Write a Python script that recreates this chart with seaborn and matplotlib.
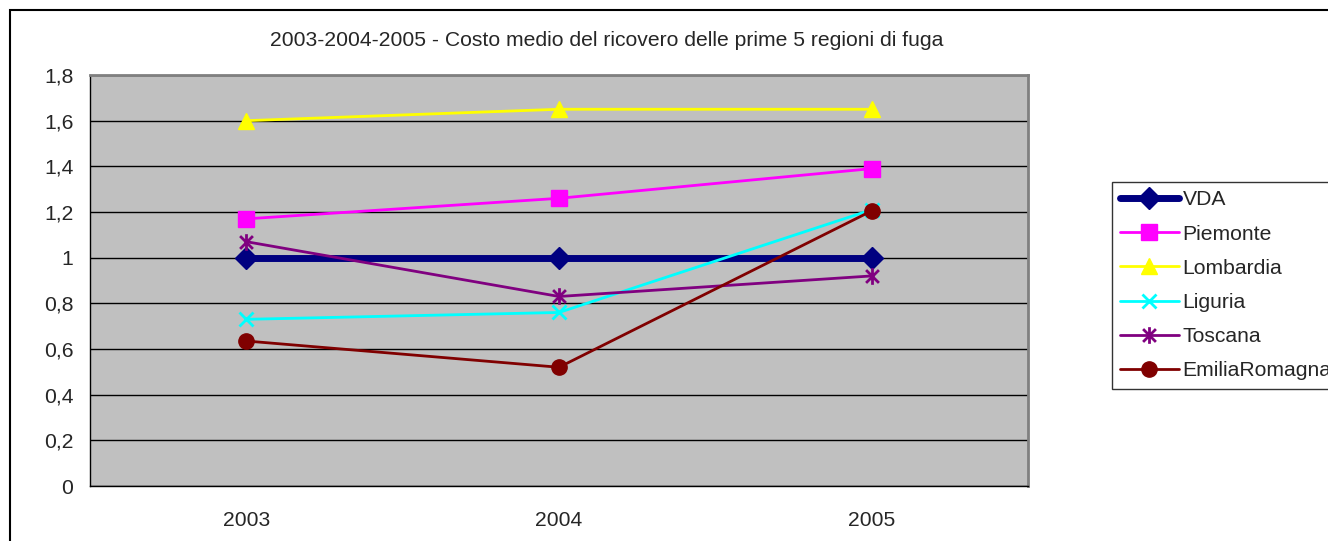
import pandas as pd
import seaborn as sns
import matplotlib.pyplot as plt
from matplotlib.path import Path
from matplotlib.patches import Rectangle
from matplotlib.ticker import FuncFormatter

# Data
anni = ['2003', '2004', '2005']
vda = [1.0, 1.0, 1.0]
piemonte = [1.17, 1.26, 1.39]
lombardia = [1.60, 1.65, 1.65]
liguria = [0.73, 0.76, 1.21]
toscana = [1.07, 0.83, 0.92]
emilia = [0.635, 0.52, 1.205]

regioni = ['VDA', 'Piemonte', 'Lombardia', 'Liguria', 'Toscana', 'EmiliaRomagna']
valori = [vda, piemonte, lombardia, liguria, toscana, emilia]

rows = []
for nome, serie in zip(regioni, valori):
    for i, v in enumerate(serie):
        rows.append({'Regione': nome, 'pos': i, 'Anno': anni[i], 'Costo': v})
df = pd.DataFrame(rows)

# Excel style "star" marker: x with a vertical bar
star = Path([(-1, -1), (1, 1), (-1, 1), (1, -1), (0, -1.3), (0, 1.3)],
            [Path.MOVETO, Path.LINETO, Path.MOVETO, Path.LINETO, Path.MOVETO, Path.LINETO])

styles = {
    'VDA': dict(color='#000080', marker='D', lw=5, ms=11),
    'Piemonte': dict(color='#FF00FF', marker='s', lw=2, ms=11),
    'Lombardia': dict(color='#FFFF00', marker='^', lw=2, ms=12),
    'Liguria': dict(color='#00FFFF', marker='x', lw=2, ms=10),
    'Toscana': dict(color='#800080', marker=star, lw=2, ms=12),
    'EmiliaRomagna': dict(color='#800000', marker='o', lw=2, ms=11),
}

sns.set_style('white')
plt.rcParams['font.family'] = ['Liberation Sans', 'DejaVu Sans']
FS = 15.2

fig = plt.figure(figsize=(13.28, 5.41), dpi=100)
ax = fig.add_axes([90 / 1328, 1 - 486 / 541, 938 / 1328, 411 / 541])
ax.set_facecolor('#C0C0C0')

for nome in regioni:
    st = styles[nome]
    sub = df[df['Regione'] == nome]
    mew = 2 if nome in ('Liguria', 'Toscana') else 1
    sns.lineplot(data=sub, x='pos', y='Costo', ax=ax, color=st['color'], marker=st['marker'],
                 linewidth=st['lw'], markersize=st['ms'], markeredgecolor=st['color'],
                 markeredgewidth=mew, label=nome, zorder=3)

ax.set_xlim(-0.5, 2.5)
ax.set_ylim(0, 1.8)
ax.set_yticks([i * 0.2 for i in range(10)])
ax.yaxis.set_major_formatter(FuncFormatter(lambda v, p: f'{round(v, 1):g}'.replace('.', ',')))
ax.grid(axis='y', color='black', linewidth=1)
ax.set_axisbelow(True)

# category boundaries as ticks, year labels in between
ax.set_xticks([-0.5, 0.5, 1.5, 2.5])
ax.set_xticklabels([])
ax.set_xticks([0, 1, 2], minor=True)
ax.set_xticklabels(anni, minor=True)
ax.tick_params(axis='x', which='major', direction='out', length=5.5, width=1, color='black')
ax.tick_params(axis='x', which='minor', length=0, pad=18, labelsize=FS)
ax.tick_params(axis='y', direction='out', length=5.5, width=1, color='black', labelsize=FS, pad=6.5)
ax.set_xlabel('')
ax.set_ylabel('')

for side in ('top', 'right'):
    ax.spines[side].set_color('#808080')
    ax.spines[side].set_linewidth(2)
for side in ('left', 'bottom'):
    ax.spines[side].set_color('black')
    ax.spines[side].set_linewidth(1)

ax.get_legend().remove()
handles, labels = ax.get_legend_handles_labels()
fig.legend(handles, labels, loc='upper left', bbox_to_anchor=(1112 / 1328, 1 - 182 / 541),
           frameon=True, fancybox=False, edgecolor='black', facecolor='white', fontsize=FS,
           handlelength=2.75, handletextpad=0.2, labelspacing=0.72, borderpad=0.4,
           borderaxespad=0)
fig.legends[0].get_frame().set_linewidth(1)

fig.suptitle('2003-2004-2005 - Costo medio del ricovero delle prime 5 regioni di fuga',
             x=607 / 1328, y=1 - 40 / 541, va='center', fontsize=FS)

# chart area border (extends past the right and bottom edges)
fig.patches.append(Rectangle((10 / 1328, -0.2), 1.5, 1 - 10 / 541 + 0.2, transform=fig.transFigure,
                             fill=False, edgecolor='black', linewidth=1.5))

fig.savefig('out.png', dpi=100)
